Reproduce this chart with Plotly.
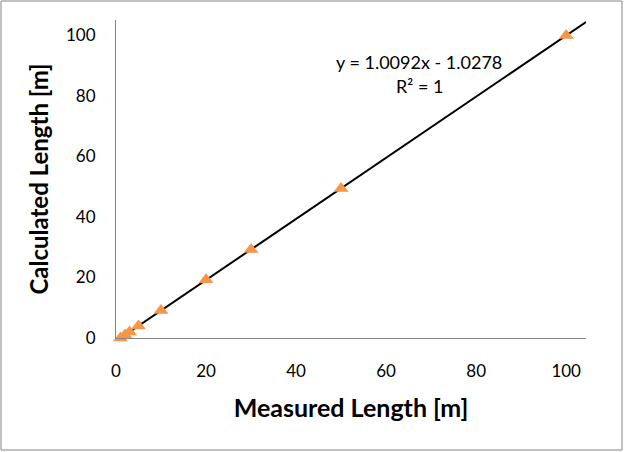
import plotly.graph_objects as go

measured = [1, 2, 3, 5, 10, 20, 30, 50, 100]
calculated = [0.0, 1.0, 2.0, 4.0, 9.1, 19.2, 29.2, 49.4, 99.9]
slope = 1.0092
intercept = -1.0278
trend_x = [1, 104.4]
trend_y = [slope * v + intercept for v in trend_x]
x_ticks = [0, 20, 40, 60, 80, 100]
y_ticks = [0, 20, 40, 60, 80, 100]

fig = go.Figure()
fig.add_trace(go.Scatter(x=trend_x, y=trend_y, mode="lines",
                         line=dict(color="black", width=2), showlegend=False,
                         cliponaxis=False))
fig.add_trace(go.Scatter(x=measured, y=calculated, mode="markers",
                         marker=dict(symbol="triangle-up", size=13, color="#F79646",
                                     line=dict(width=0)),
                         showlegend=False, cliponaxis=False))

font_family = "Lato, 'Open Sans', sans-serif"
fig.update_layout(
    width=624, height=452,
    margin=dict(l=116, r=38, t=20, b=114),
    paper_bgcolor="white", plot_bgcolor="white",
    font=dict(family=font_family, color="black", size=17),
    xaxis=dict(range=[0, 104.4], tickvals=x_ticks, showgrid=False, zeroline=False,
               showline=True, linecolor="#868686", linewidth=1,
               ticks="outside", ticklen=18, tickcolor="rgba(0,0,0,0)",
               tickfont=dict(size=17),
               title=dict(text="<b>Measured Length [m]</b>", font=dict(size=25), standoff=19)),
    yaxis=dict(range=[0, 105], tickvals=y_ticks, showgrid=False, zeroline=False,
               showline=True, linecolor="#868686", linewidth=1,
               ticks="outside", ticklen=16, tickcolor="rgba(0,0,0,0)",
               tickfont=dict(size=17),
               title=dict(text="<b>Calculated Length [m]</b>", font=dict(size=24), standoff=10)),
    annotations=[
        dict(x=(419 - 116) / 470, y=(338 - 49) / 318, xref="paper", yref="paper",
             text="y = 1.0092x - 1.0278", showarrow=False, font=dict(size=18)),
        dict(x=(419 - 116) / 470, y=(338 - 73) / 318, xref="paper", yref="paper",
             text="R² = 1", showarrow=False, font=dict(size=18)),
    ],
    shapes=[dict(type="rect", xref="paper", yref="paper",
                 x0=(1 - 116) / 470, x1=(622 - 116) / 470,
                 y0=(338 - 450) / 318, y1=(338 - 1) / 318,
                 line=dict(color="#868686", width=1), layer="below")],
)

fig.write_html("out.html")
